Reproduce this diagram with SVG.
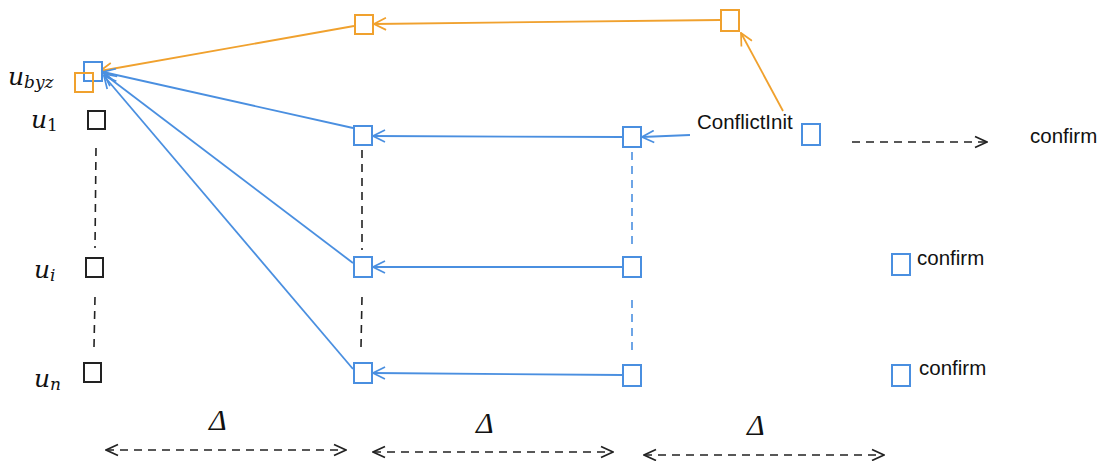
<svg xmlns="http://www.w3.org/2000/svg" width="1101" height="461" viewBox="0 0 1101 461">
  <style>
    .sq { fill: #ffffff; stroke-width: 2; }
    .blue { stroke: #4a8fe0; }
    .orange { stroke: #f0a12e; }
    .black { stroke: #222222; }
    .edge { fill: none; stroke-width: 1.8; }
    .dash { fill: none; stroke-width: 1.6; stroke-dasharray: 8 6; }
    .sans { font-family: "Liberation Sans", Arial, sans-serif; font-size: 20.5px; fill: #111; }
    .math { font-family: "DejaVu Serif", "Liberation Serif", serif; font-style: italic; fill: #111; }
    .delta { font-family: "Liberation Serif", "Times New Roman", serif; font-style: italic; fill: #111; }
  </style>
  <defs>
    <marker id="ab" viewBox="0 0 14 14" refX="13" refY="7" markerWidth="14" markerHeight="14" markerUnits="userSpaceOnUse" orient="auto-start-reverse">
      <path d="M1,1 L13,7 L1,13" fill="none" stroke="#4a8fe0" stroke-width="1.7"/>
    </marker>
    <marker id="ao" viewBox="0 0 14 14" refX="13" refY="7" markerWidth="14" markerHeight="14" markerUnits="userSpaceOnUse" orient="auto-start-reverse">
      <path d="M1,1 L13,7 L1,13" fill="none" stroke="#f0a12e" stroke-width="1.7"/>
    </marker>
    <marker id="ak" viewBox="0 0 14 14" refX="13" refY="7" markerWidth="14" markerHeight="14" markerUnits="userSpaceOnUse" orient="auto-start-reverse">
      <path d="M1,1.5 L13,7 L1,12.5" fill="none" stroke="#222" stroke-width="1.7"/>
    </marker>
  </defs>

  <!-- process labels -->
  <g id="labels">
    <text class="math" x="8" y="85" font-size="25">u<tspan font-size="17" dy="3">byz</tspan></text>
    <text class="math" x="31" y="128" font-size="25">u<tspan font-size="17" font-style="normal" dy="3">1</tspan></text>
    <text class="math" x="34" y="278" font-size="25">u<tspan font-size="17" dy="3">i</tspan></text>
    <text class="math" x="34" y="387" font-size="25">u<tspan font-size="17" dy="3">n</tspan></text>
  </g>

  <!-- connectors -->
  <g id="connectors">
    <!-- orange path -->
    <line class="edge orange" x1="783" y1="111" x2="741" y2="33" marker-end="url(#ao)"/>
    <line class="edge orange" x1="720" y1="20" x2="374" y2="24" marker-end="url(#ao)"/>
    <line class="edge orange" x1="354" y1="26" x2="100" y2="71" marker-end="url(#ao)"/>
    <!-- blue horizontal -->
    <line class="edge blue" x1="690" y1="135" x2="642" y2="137" marker-end="url(#ab)"/>
    <line class="edge blue" x1="622" y1="137" x2="373" y2="136" marker-end="url(#ab)"/>
    <line class="edge blue" x1="622" y1="267" x2="373" y2="267" marker-end="url(#ab)"/>
    <line class="edge blue" x1="622" y1="375" x2="373" y2="373" marker-end="url(#ab)"/>
    <!-- blue fan into u_byz -->
    <line class="edge blue" x1="353" y1="128" x2="103" y2="72" marker-end="url(#ab)"/>
    <line class="edge blue" x1="353" y1="263" x2="104" y2="74" marker-end="url(#ab)"/>
    <line class="edge blue" x1="353" y1="369" x2="104" y2="76" marker-end="url(#ab)"/>
    <!-- vertical ellipsis lines -->
    <line class="dash black" x1="96" y1="148" x2="95" y2="248"/>
    <line class="dash black" x1="95" y1="297" x2="94" y2="347"/>
    <line class="dash black" x1="362" y1="150" x2="362" y2="250"/>
    <line class="dash black" x1="362" y1="297" x2="361" y2="347"/>
    <line class="dash blue" x1="632" y1="152" x2="632" y2="250"/>
    <line class="dash blue" x1="632" y1="300" x2="632" y2="355"/>
    <!-- confirm arrow -->
    <line class="dash black" x1="852" y1="142" x2="987" y2="142" marker-end="url(#ak)"/>
    <!-- delta intervals -->
    <line class="dash black" x1="106" y1="450" x2="346" y2="450" marker-start="url(#ak)" marker-end="url(#ak)"/>
    <line class="dash black" x1="373" y1="452" x2="613" y2="452" marker-start="url(#ak)" marker-end="url(#ak)"/>
    <line class="dash black" x1="644" y1="455" x2="884" y2="455" marker-start="url(#ak)" marker-end="url(#ak)"/>
  </g>

  <!-- column 0 -->
  <g id="u-byz-blue"><rect class="sq blue" x="84" y="62" width="18" height="19"/></g>
  <g id="u-byz-orange"><rect class="sq orange" x="75" y="73" width="18" height="19" style="fill:none"/></g>
  <g id="u1"><rect class="sq black" x="88" y="111" width="17" height="18"/></g>
  <g id="ui"><rect class="sq black" x="86" y="258" width="17" height="19"/></g>
  <g id="un"><rect class="sq black" x="84" y="363" width="17" height="19"/></g>

  <!-- column 1 -->
  <g id="c1-orange"><rect class="sq orange" x="355" y="15" width="18" height="19"/></g>
  <g id="c1-r1"><rect class="sq blue" x="354" y="126" width="18" height="19"/></g>
  <g id="c1-r2"><rect class="sq blue" x="354" y="257" width="18" height="20"/></g>
  <g id="c1-r3"><rect class="sq blue" x="354" y="363" width="18" height="20"/></g>

  <!-- column 2 -->
  <g id="c2-r1"><rect class="sq blue" x="623" y="127" width="18" height="20"/></g>
  <g id="c2-r2"><rect class="sq blue" x="623" y="257" width="18" height="20"/></g>
  <g id="c2-r3"><rect class="sq blue" x="623" y="365" width="18" height="21"/></g>

  <!-- column 3 -->
  <g id="c3-orange"><rect class="sq orange" x="721" y="10" width="18" height="21"/></g>
  <g id="conflict-init">
    <text class="sans" x="697" y="129" font-size="21">ConflictInit</text>
    <rect class="sq blue" x="802" y="124" width="18" height="21"/>
  </g>
  <g id="confirm-1"><text class="sans" x="1030" y="143">confirm</text></g>
  <g id="confirm-2">
    <rect class="sq blue" x="892" y="254" width="18" height="21"/>
    <text class="sans" x="917" y="265">confirm</text>
  </g>
  <g id="confirm-3">
    <rect class="sq blue" x="892" y="365" width="18" height="21"/>
    <text class="sans" x="919" y="375">confirm</text>
  </g>

  <!-- interval labels -->
  <g id="deltas">
    <text class="delta" x="209" y="430" font-size="30">Δ</text>
    <text class="delta" x="476" y="433" font-size="30">Δ</text>
    <text class="delta" x="747" y="435" font-size="30">Δ</text>
  </g>
</svg>
